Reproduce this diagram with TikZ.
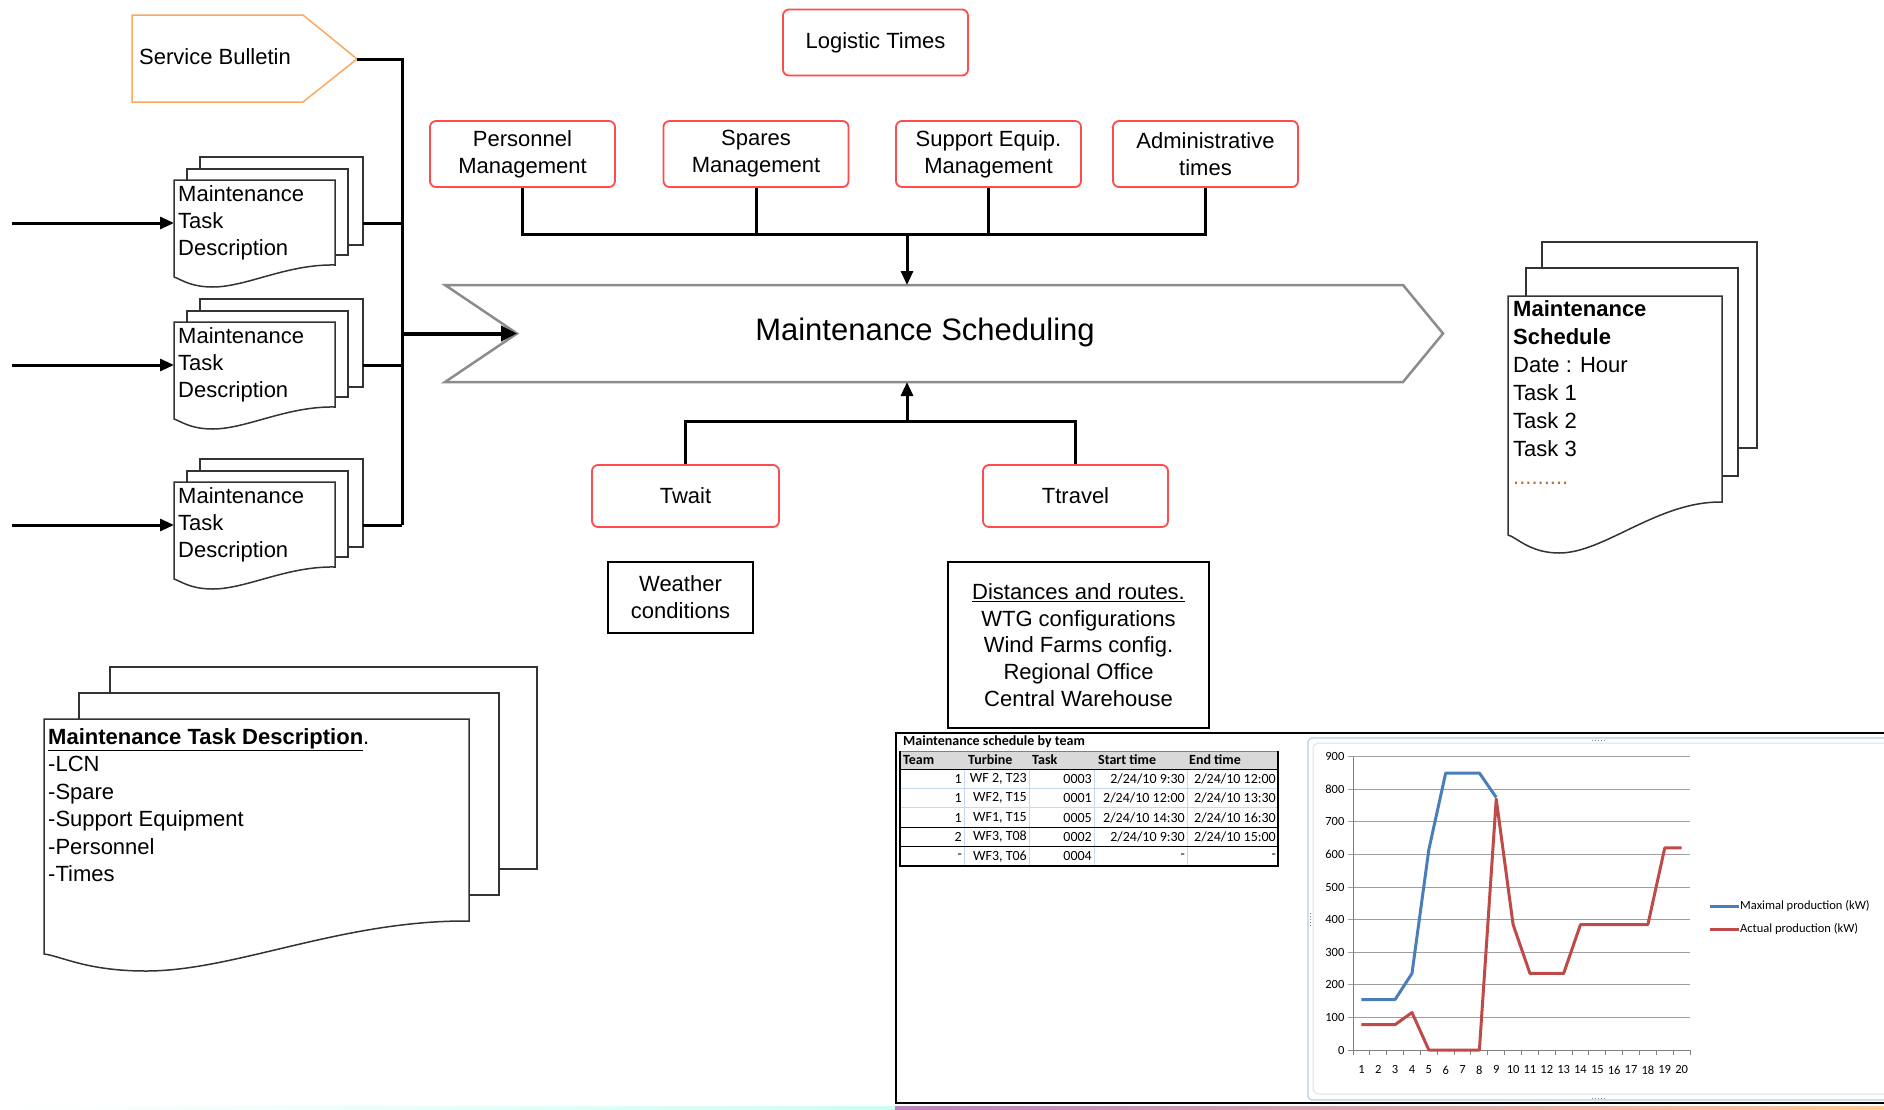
\documentclass[tikz,border=0pt]{standalone}
\usepackage{fontspec}
\setmainfont{Liberation Sans}
\newfontfamily\calib{Carlito}
\usetikzlibrary{arrows.meta,calc}

\definecolor{boxred}{RGB}{255,75,75}
\definecolor{sborange}{RGB}{250,170,95}
\definecolor{chevgray}{RGB}{140,140,140}
\definecolor{maxblue}{RGB}{74,126,187}
\definecolor{actred}{RGB}{190,75,72}
\definecolor{gridblue}{RGB}{198,217,241}
\definecolor{hdrgray}{RGB}{217,217,217}
\definecolor{frameblue}{RGB}{185,205,220}
\definecolor{dotbrown}{RGB}{190,110,40}

\newcommand\bigfont{\fontsize{22}{27}\selectfont}
\newcommand\tabfont{\calib\fontsize{14}{16}\selectfont}
\newcommand\chartfont{\calib\fontsize{12.5}{14}\selectfont}

% front sheet of a document stack: left, top, right, right-bottom, left-bottom, wave depth
\newcommand\docfront[6]{%
  \filldraw[page] ({#1},{#2}) -- ({#3},{#2}) -- ({#3},{#4})
    .. controls ({#3-0.3*(#3-#1)},{#4-1}) and ({#1+0.45*(#3-#1)},{#5+#6}) .. ({#1+0.24*(#3-#1)},{#5+#6})
    .. controls ({#1+0.1*(#3-#1)},{#5+#6}) and ({#1+0.04*(#3-#1)},{#5+2}) .. ({#1},{#5}) -- cycle;}

\begin{document}
\begin{tikzpicture}[x=1pt,y=-1pt,
  redbox/.style={draw=boxred, line width=1.8pt, rounded corners=6pt, fill=white,
    minimum width=185pt, minimum height=66pt, align=center, font=\bigfont, inner sep=0pt},
  plainbox/.style={draw=black, line width=2pt, align=center, inner sep=0pt},
  wire/.style={line width=3pt, black},
  arr/.style={wire, -{Triangle[length=14pt,width=12pt]}},
  page/.style={draw=black!80, line width=1.5pt, fill=white},
  doctext/.style={anchor=north west, align=left, inner sep=0pt, font=\bigfont},
  tabhead/.style={anchor=west, inner sep=0pt, font={\tabfont\bfseries}},
  tabcell/.style={anchor=east, inner sep=0pt, font=\tabfont},
  chartlbl/.style={inner sep=0pt, font=\chartfont}]

\fill[white] (0,0) rectangle (1884,1109);
\useasboundingbox (0,0) rectangle (1884,1109);

% ---------- service bulletin and input bus ----------
\draw[sborange, line width=1.5pt, fill=white] (132,15) -- (303,15) -- (357,59) -- (303,102) -- (132,102) -- cycle;
\node[font=\bigfont, anchor=west, inner sep=0pt] (sb) at (139,57) {Service Bulletin};
\coordinate (sbtip) at (357,59);
\coordinate (bustop) at (402,59);
\coordinate (busbot) at (402,525);
\draw[wire] (sbtip) -- (bustop) -- (busbot);

% ---------- task description stacks ----------
\foreach \dy [count=\i] in {0,142,302} {
  \draw[page] (200,{157+\dy}) rectangle (363,{245+\dy});
  \draw[page] (187,{169+\dy}) rectangle (348,{255+\dy});
  \docfront{174}{180+\dy}{335}{265+\dy}{277+\dy}{10}
  \node[doctext] (task\i) at (178,{185+\dy}) {Maintenance\\Task\\Description};
  \coordinate (src\i) at (12,{223+\dy});
  \coordinate (in\i) at (174,{223+\dy});
  \coordinate (out\i) at (363,{223+\dy});
  \draw[arr] (src\i) -- (in\i);
  \draw[wire] (out\i) -- (out\i -| busbot);
}

% ---------- scheduling chevron ----------
\draw[chevgray, line width=2.5pt, fill=white]
  (445,285) -- (1403,285) -- (1443,333.5) -- (1403,382) -- (445,382) -- (517,333.5) -- cycle;
\node[font=\fontsize{31}{36}\selectfont, inner sep=0pt] (sched) at (925,332) {Maintenance Scheduling};
\coordinate (notch) at (517,333.5);
\coordinate (busmid) at (402,333.5);
\coordinate (schedtop) at (907,285);
\coordinate (schedbot) at (907,382);
\draw[line width=4pt, -{Triangle[length=16pt,width=15pt]}] (busmid) -- (notch);

% ---------- logistic time boxes ----------
\node[redbox] (logt) at (875.5,42.5) {Logistic Times};
\node[redbox] (pers) at (522.5,154) {Personnel\\Management};
\node[redbox] (spar) at (756,154) {Spares\\Management};
\node[redbox] (supp) at (988.5,154) {Support Equip.\\Management};
\node[redbox] (adm) at (1205.5,154) {Administrative\\times};
\coordinate (hub) at (907,234);
\draw[wire] (pers.south) -- (pers.south |- hub) -- (adm.south |- hub) -- (adm.south);
\draw[wire] (spar.south) -- (spar.south |- hub);
\draw[wire] (supp.south) -- (supp.south |- hub);
\draw[arr] (hub) -- (schedtop);

\node[redbox, minimum width=187pt, minimum height=62pt] (twait) at (685.5,496) {Twait};
\node[redbox, minimum height=62pt] (ttravel) at (1075.5,496) {Ttravel};
\coordinate (hubb) at (907,421);
\draw[wire] (twait.north) -- (twait.north |- hubb) -- (ttravel.north |- hubb) -- (ttravel.north);
\draw[arr] (hubb) -- (schedbot);

% ---------- data sources ----------
\node[plainbox, minimum width=145pt, minimum height=71pt, font=\bigfont] (weather) at (680.5,597.5) {Weather\\conditions};
\node[plainbox, minimum width=261pt, minimum height=166pt, font=\fontsize{22}{26.7}\selectfont] (dist) at (1078.5,645)
  {\underline{Distances and routes.}\\WTG configurations\\Wind Farms config.\\Regional Office\\Central Warehouse};

% ---------- schedule output stack ----------
\draw[page] (1542,242) rectangle (1757,448);
\draw[page] (1526,268) rectangle (1738,476);
\docfront{1508}{296}{1722}{502}{535}{18}
\node[doctext, font=\fontsize{22}{28}\selectfont] (schedoc) at (1513,300)
  {\textbf{Maintenance}\\\textbf{Schedule}\\Date : Hour\\Task 1\\Task 2\\Task 3\\{\color{dotbrown}.........}};

% ---------- task description content stack ----------
\draw[page] (110,667) rectangle (537,869);
\draw[page] (79,693) rectangle (499,895);
\docfront{44}{719}{469}{921}{954}{17}
\node[doctext, font=\fontsize{22}{27.5}\selectfont] (mtd) at (48,728)
  {\underline{\textbf{Maintenance Task Description}}.\\-LCN\\-Spare\\-Support Equipment\\-Personnel\\-Times};

% ---------- schedule table ----------
\draw[line width=2.5pt] (1895,733) -- (896,733) -- (896,1103) -- (1895,1103);
\node[anchor=west, inner sep=0pt, font={\tabfont\bfseries}] (ttitle) at (903,742) {Maintenance schedule by team};
\fill[hdrgray] (900,751) rectangle (1278,769);
\node[tabhead] (h1) at (903,760) {Team};
\node[tabhead] (h2) at (968,760) {Turbine};
\node[tabhead] (h3) at (1032,760) {Task};
\node[tabhead] (h4) at (1098,760) {Start time};
\node[tabhead] (h5) at (1189,760) {End time};
\foreach \x in {964,1029,1094,1187} \draw[gridblue, line width=1pt] (\x,769) -- (\x,866);
\foreach \y in {788.4,807.8} \draw[gridblue, line width=1pt] (900,\y) -- (1278,\y);
\foreach \y in {827.2,846.6} \draw[black, line width=1pt] (900,\y) -- (1278,\y);
\draw[black, line width=1pt] (900,769) -- (1278,769);
\draw[gray, line width=1pt] (900,751) -- (1278,751);
\draw[black, line width=1.2pt] (900,751) -- (900,866) -- (1278,866) -- (1278,751);
\foreach \a/\b/\c/\d/\e [count=\r] in {1/{WF 2, T23}/0003/{2/24/10 9:30}/{2/24/10 12:00},
    1/{WF2, T15}/0001/{2/24/10 12:00}/{2/24/10 13:30},
    1/{WF1, T15}/0005/{2/24/10 14:30}/{2/24/10 16:30},
    2/{WF3, T08}/0002/{2/24/10 9:30}/{2/24/10 15:00},
    -/{WF3, T06}/0004/-/-} {
  \node[tabcell] (c\r a) at (962,{769+19.4*(\r-0.5)}) {\a};
  \node[tabcell] (c\r b) at (1027,{769+19.4*(\r-0.5)}) {\b};
  \node[tabcell] (c\r c) at (1092,{769+19.4*(\r-0.5)}) {\c};
  \node[tabcell] (c\r d) at (1185,{769+19.4*(\r-0.5)}) {\d};
  \node[tabcell] (c\r e) at (1276,{769+19.4*(\r-0.5)}) {\e};
}

% ---------- production chart ----------
\draw[frameblue, line width=1.2pt, rounded corners=4pt] (1308,738) rectangle (1900,1100);
\draw[frameblue!55, line width=1pt, rounded corners=6pt] (1313,743) rectangle (1900,1094);
\draw[gray, dotted, line width=1pt] (1592,740) -- (1607,740);
\draw[gray, dotted, line width=1pt] (1592,1098) -- (1607,1098);
\draw[gray, dotted, line width=1pt] (1310,913) -- (1310,928);
\begin{scope}[shift={(1353,1050)}, x=16.85pt, y=0.3259pt]
  \foreach \v in {100,200,...,900} \draw[gray!75, line width=1pt] (-0.3,\v) -- (20,\v);
  \draw[gray, line width=1pt] (-0.3,0) -- (20,0);
  \draw[gray, line width=1pt] (0,0) -- (0,900);
  \foreach \k in {0,...,20} \draw[gray, line width=1pt] (\k,0) -- (\k,-15);
  \foreach \v in {0,100,...,900} \node[chartlbl, anchor=east] (yl\v) at (-0.5,\v) {\v};
  \foreach \i in {1,...,20} \node[chartlbl] (xl\i) at ({\i-0.5},-61) {\i};
  \draw[maxblue, line width=3pt, line join=round] plot coordinates
    {(0.5,155) (1.5,155) (2.5,155) (3.5,235) (4.5,615) (5.5,850) (6.5,850) (7.5,850) (8.5,775)};
  \draw[actred, line width=3pt, line join=round] plot coordinates
    {(0.5,78) (1.5,78) (2.5,78) (3.5,115) (4.5,0) (5.5,0) (6.5,0) (7.5,0) (8.5,770) (9.5,385)
     (10.5,235) (11.5,235) (12.5,235) (13.5,385) (14.5,385) (15.5,385) (16.5,385) (17.5,385)
     (18.5,620) (19.5,620)};
\end{scope}
\draw[maxblue, line width=3pt] (1710,906) -- (1739,906);
\node[chartlbl, anchor=west] (lg1) at (1740,906) {Maximal production (kW)};
\draw[actred, line width=3pt] (1710,929) -- (1739,929);
\node[chartlbl, anchor=west] (lg2) at (1740,929) {Actual production (kW)};

% ---------- thin coloured strip along the bottom edge ----------
\shade[left color=white, right color=green!25!cyan!20] (0,1106.5) rectangle (895,1109);
\shade[left color=violet!50, right color=orange!40] (895,1106.5) rectangle (1884,1109);
\end{tikzpicture}
\end{document}
